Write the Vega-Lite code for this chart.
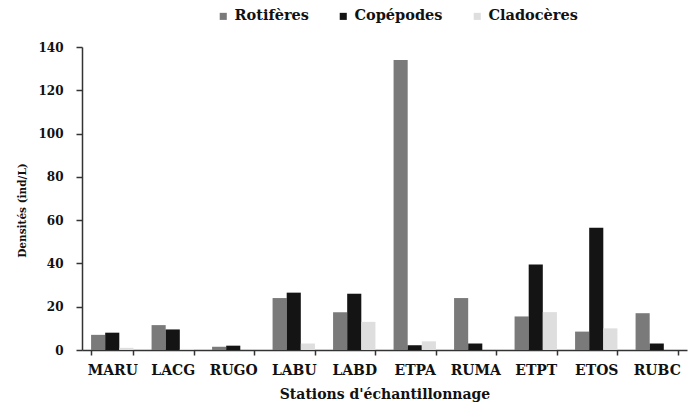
{
  "$schema": "https://vega.github.io/schema/vega-lite/v6.json",
  "width": 605,
  "height": 303,
  "autosize": {"type": "none"},
  "padding": {"left": 82, "top": 47, "right": 2, "bottom": 54},
  "background": "white",
  "config": {
    "view": {"stroke": null},
    "font": "DejaVu Serif",
    "axis": {"labelFont": "DejaVu Serif", "titleFont": "DejaVu Serif", "labelFontWeight": "bold", "titleFontWeight": "bold", "labelColor": "#111", "titleColor": "#111", "domainColor": "#333", "domainWidth": 1.5, "tickColor": "#333", "tickWidth": 1.5, "grid": false},
    "legend": {"labelFont": "DejaVu Serif", "labelFontWeight": "bold", "labelColor": "#111"}
  },
  "data": {
    "values": [
      {"station": "MARU", "group": "Rotifères", "value": 7},
      {"station": "MARU", "group": "Copépodes", "value": 8},
      {"station": "MARU", "group": "Cladocères", "value": 1},
      {"station": "LACG", "group": "Rotifères", "value": 11.5},
      {"station": "LACG", "group": "Copépodes", "value": 9.5},
      {"station": "LACG", "group": "Cladocères", "value": 0.5},
      {"station": "RUGO", "group": "Rotifères", "value": 1.5},
      {"station": "RUGO", "group": "Copépodes", "value": 2},
      {"station": "RUGO", "group": "Cladocères", "value": 0},
      {"station": "LABU", "group": "Rotifères", "value": 24},
      {"station": "LABU", "group": "Copépodes", "value": 26.5},
      {"station": "LABU", "group": "Cladocères", "value": 3},
      {"station": "LABD", "group": "Rotifères", "value": 17.5},
      {"station": "LABD", "group": "Copépodes", "value": 26},
      {"station": "LABD", "group": "Cladocères", "value": 13},
      {"station": "ETPA", "group": "Rotifères", "value": 134},
      {"station": "ETPA", "group": "Copépodes", "value": 2.2},
      {"station": "ETPA", "group": "Cladocères", "value": 4},
      {"station": "RUMA", "group": "Rotifères", "value": 24},
      {"station": "RUMA", "group": "Copépodes", "value": 3},
      {"station": "RUMA", "group": "Cladocères", "value": 0},
      {"station": "ETPT", "group": "Rotifères", "value": 15.5},
      {"station": "ETPT", "group": "Copépodes", "value": 39.5},
      {"station": "ETPT", "group": "Cladocères", "value": 17.5},
      {"station": "ETOS", "group": "Rotifères", "value": 8.5},
      {"station": "ETOS", "group": "Copépodes", "value": 56.5},
      {"station": "ETOS", "group": "Cladocères", "value": 10},
      {"station": "RUBC", "group": "Rotifères", "value": 17},
      {"station": "RUBC", "group": "Copépodes", "value": 3},
      {"station": "RUBC", "group": "Cladocères", "value": 0}
    ]
  },
  "mark": {"type": "bar"},
  "encoding": {
    "x": {
      "field": "station", "type": "nominal",
      "sort": ["MARU", "LACG", "RUGO", "LABU", "LABD", "ETPA", "RUMA", "ETPT", "ETOS", "RUBC"],
      "scale": {"paddingInner": 0.3, "paddingOuter": 0.15},
      "axis": {"tickBand": "extent", "labelAngle": 0, "labelFontSize": 14, "labelPadding": 8, "tickSize": 5, "title": "Stations d'échantillonnage", "titleFontSize": 14, "titlePadding": 10}
    },
    "xOffset": {"field": "group", "sort": ["Rotifères", "Copépodes", "Cladocères"]},
    "y": {
      "field": "value", "type": "quantitative",
      "scale": {"domain": [0, 140], "nice": false},
      "axis": {"values": [0, 20, 40, 60, 80, 100, 120, 140], "labelFontSize": 12, "tickSize": 6, "labelPadding": 13, "title": "Densités (ind/L)", "titleFontSize": 10.5, "titlePadding": 10, "titleY": 163}
    },
    "color": {
      "field": "group", "type": "nominal",
      "scale": {"domain": ["Rotifères", "Copépodes", "Cladocères"], "range": ["#7a7a7a", "#141414", "#dedede"]},
      "legend": {"title": null, "orient": "none", "direction": "horizontal", "legendX": 134, "legendY": -38, "labelFont": "DejaVu Serif", "labelFontWeight": "bold", "labelFontSize": 14.5, "symbolType": "square", "symbolSize": 50, "columnPadding": 27}
    }
  }
}
